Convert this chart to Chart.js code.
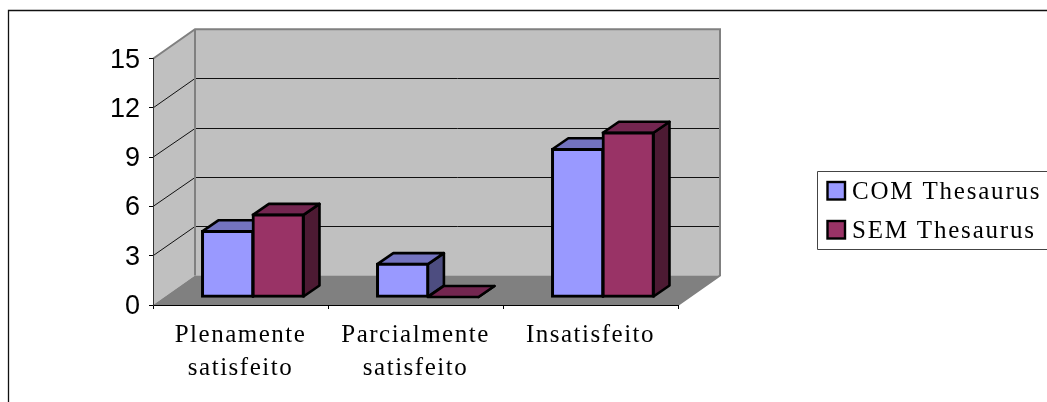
<!DOCTYPE html>
<html>
<head>
<meta charset="utf-8">
<style>html,body{margin:0;padding:0;background:#fff;overflow:hidden}canvas{display:block}</style>
<script src="https://cdn.jsdelivr.net/npm/chart.js@4/dist/chart.umd.min.js"></script>
</head>
<body>
<canvas id="c" width="1047" height="402"></canvas>
<script>
const categories = [["Plenamente","satisfeito"],["Parcialmente","satisfeito"],"Insatisfeito"];
const comThesaurus = [4, 2, 9];
const semThesaurus = [5, 0, 10];
const yTicks = [0, 3, 6, 9, 12, 15];
const seriesNames = ["COM Thesaurus", "SEM Thesaurus"];

const wall = {dx: 42, dy: -29.5};          // depth of the 3D box
const barShift = {dx: 12.4, dy: -8};       // bars stand inside the box
const barDepth = {dx: 16, dy: -11};
const serif = '"Liberation Serif"';
const colors = [
  {front:'#9999FF', top:'#7373BF', side:'#4D4D80'},
  {front:'#993366', top:'#732650', side:'#4D1A33'}
];

function poly(ctx, pts, fill, stroke, lw){
  ctx.beginPath();
  pts.forEach((p,i)=> i ? ctx.lineTo(p[0],p[1]) : ctx.moveTo(p[0],p[1]));
  ctx.closePath();
  if(fill){ctx.fillStyle=fill;ctx.fill();}
  if(stroke){ctx.strokeStyle=stroke;ctx.lineWidth=lw;ctx.stroke();}
}

const box3d = {
  id:'box3d',
  beforeDraw(chart){
    const {ctx, scales:{x:xs,y:ys}} = chart;
    if(!xs._spaced){
      const orig = xs.drawLabels;
      xs.drawLabels = function(a){ctx.save();ctx.letterSpacing='1.5px';orig.call(xs,a);ctx.restore();};
      xs._spaced = true;
    }
    const L=xs.left,R=xs.right,T=ys.getPixelForValue(15),B=ys.getPixelForValue(0);
    const d=wall;
    ctx.save();
    // outer frame
    ctx.strokeStyle='#111';ctx.lineWidth=1.3;
    ctx.beginPath();ctx.moveTo(8.5,402);ctx.lineTo(8.5,10.5);ctx.lineTo(1047,10.5);ctx.stroke();
    // walls
    poly(ctx,[[L+d.dx,T+d.dy],[R+d.dx,T+d.dy],[R+d.dx,B+d.dy],[L+d.dx,B+d.dy]],'#C0C0C0');
    poly(ctx,[[L,T],[L+d.dx,T+d.dy],[L+d.dx,B+d.dy],[L,B]],'#C0C0C0');
    poly(ctx,[[L,B],[R,B],[R+d.dx,B+d.dy],[L+d.dx,B+d.dy]],'#808080');
    // grid lines
    ctx.strokeStyle='#111';ctx.lineWidth=1;
    yTicks.forEach(v=>{
      if(v===0||v===15) return;
      const y=Math.round(ys.getPixelForValue(v)+d.dy)+0.5;
      ctx.beginPath();ctx.moveTo(L,ys.getPixelForValue(v));ctx.lineTo(L+d.dx,y);ctx.lineTo(R+d.dx,y);ctx.stroke();
    });
    // wall edges
    ctx.strokeStyle='#808080';ctx.lineWidth=2;
    ctx.beginPath();
    ctx.moveTo(L,T);ctx.lineTo(L+d.dx,T+d.dy);ctx.lineTo(R+d.dx,T+d.dy);ctx.lineTo(R+d.dx,B+d.dy);ctx.lineTo(R,B);
    ctx.moveTo(L+d.dx,T+d.dy);ctx.lineTo(L+d.dx,B+d.dy);
    ctx.stroke();
    ctx.restore();
  },
  beforeDatasetsDraw(chart){
    const ctx=chart.ctx;
    ctx.save();
    ctx.translate(barShift.dx,barShift.dy);
    ctx.lineJoin='round';
    const n=chart.data.labels.length;
    for(let i=0;i<n;i++){
      chart.data.datasets.forEach((ds,k)=>{
        const el=chart.getDatasetMeta(k).data[i];
        const l=el.x-el.width/2,r=el.x+el.width/2,t=el.y,b=el.base;
        const q=barDepth;
        poly(ctx,[[r,t],[r+q.dx,t+q.dy],[r+q.dx,b+q.dy],[r,b]],colors[k].side,'#000',2.6);
        poly(ctx,[[l,t],[r,t],[r+q.dx,t+q.dy],[l+q.dx,t+q.dy]],colors[k].top,'#000',2.6);
      });
    }
  },
  afterDatasetsDraw(chart){
    const ctx=chart.ctx;
    ctx.restore();
    // legend
    ctx.save();
    ctx.strokeStyle='#444';ctx.lineWidth=1;
    ctx.beginPath();ctx.moveTo(1047,171.5);ctx.lineTo(817.5,171.5);ctx.lineTo(817.5,249.5);ctx.lineTo(1047,249.5);ctx.stroke();
    ctx.font='25px '+serif;ctx.letterSpacing='1.8px';ctx.textBaseline='alphabetic';ctx.textAlign='left';
    seriesNames.forEach((name,k)=>{
      const y=182+k*39;
      ctx.fillStyle=colors[k].front;ctx.fillRect(827.5,y,17.5,17.5);
      ctx.strokeStyle='#000';ctx.lineWidth=2.4;ctx.strokeRect(827.5,y,17.5,17.5);
      ctx.fillStyle='#000';ctx.fillText(name,852,y+17);
    });
    ctx.restore();
  }
};

new Chart(document.getElementById('c'),{
  type:'bar',
  data:{
    labels:categories,
    datasets:[
      {label:seriesNames[0],data:comThesaurus,backgroundColor:colors[0].front},
      {label:seriesNames[1],data:semThesaurus,backgroundColor:colors[1].front}
    ]
  },
  options:{
    responsive:false,
    animation:false,
    devicePixelRatio:1,
    layout:{padding:{top:58.7,right:369,left:0,bottom:0}},
    categoryPercentage:0.578,
    barPercentage:1,
    clip:false,
    elements:{bar:{borderColor:'#000',borderWidth:3,borderSkipped:false,inflateAmount:1.3}},
    plugins:{legend:{display:false},title:{display:false},tooltip:{enabled:false}},
    scales:{
      x:{
        afterFit(s){s.height=97;},
        grid:{drawOnChartArea:false,drawTicks:true,tickLength:4,color:'#000'},
        border:{color:'#000',width:1},
        ticks:{font:{family:serif,size:25,lineHeight:1.32},color:'#000',padding:10,maxRotation:0,autoSkip:false}
      },
      y:{
        min:0,max:15,
        afterFit(s){s.width=153;},
        afterBuildTicks(s){s.ticks=yTicks.map(v=>({value:v}));},
        grid:{drawOnChartArea:false,drawTicks:true,tickLength:4,color:'#000'},
        border:{color:'#333',width:1},
        ticks:{font:{family:'"Liberation Sans"',size:27},color:'#000',padding:9,labelOffset:1.5}
      }
    }
  },
  plugins:[box3d]
});
</script>
</body>
</html>
